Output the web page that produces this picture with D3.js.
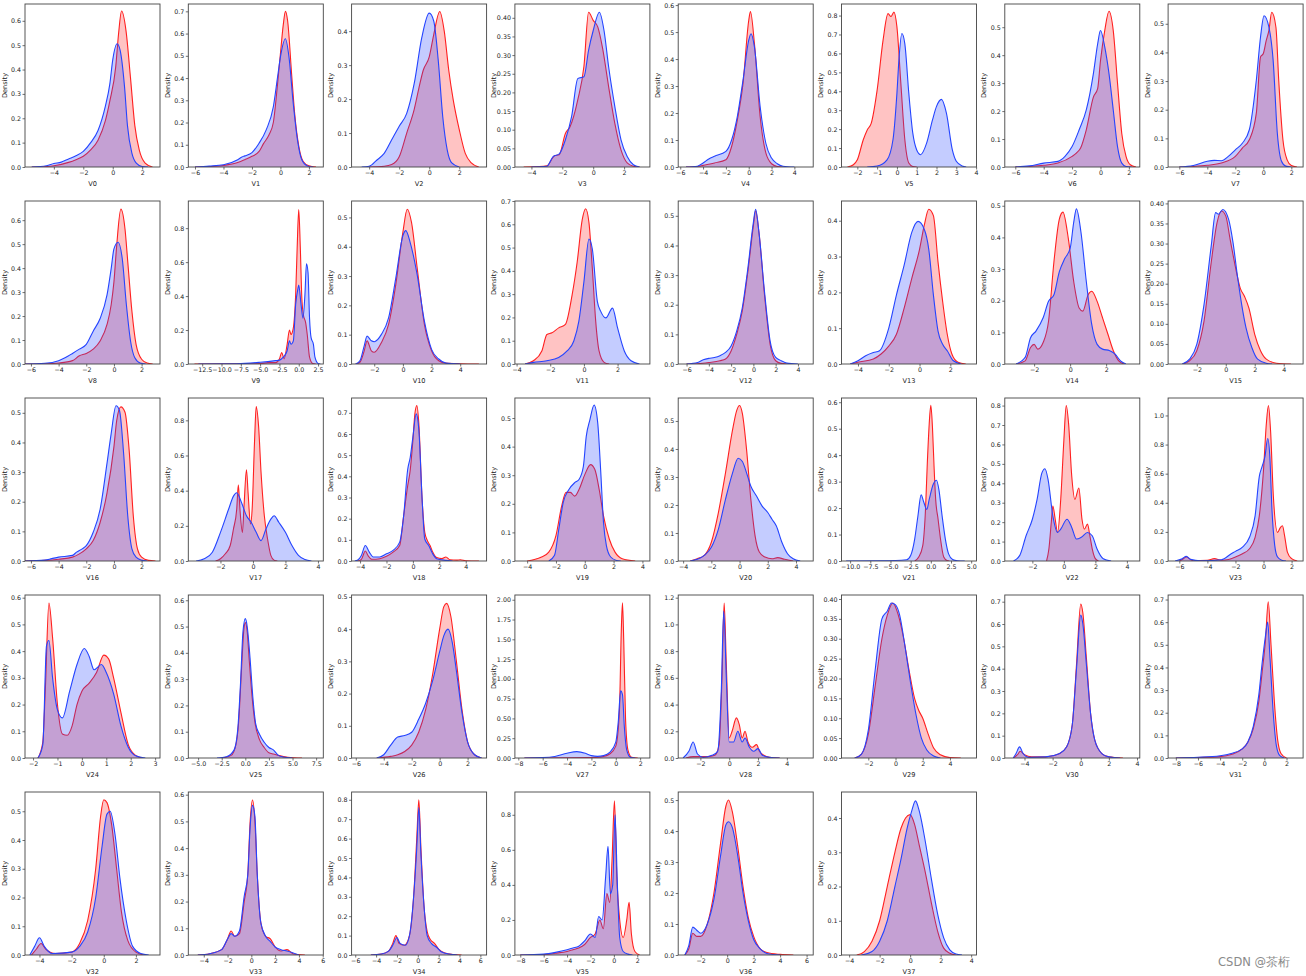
<!DOCTYPE html>
<html>
<head>
<meta charset="utf-8">
<script src="https://cdn.jsdelivr.net/npm/d3@7"></script>
<style>
  body { margin: 0; background: #fff; }
  svg { display: block; }
  text { font-family: "DejaVu Sans", sans-serif; }
</style>
</head>
<body>
<svg id="chart"></svg>
<script>
// one panel per feature, train (red) vs test (blue) density
const features = ['V0', 'V1', 'V2', 'V3', 'V4', 'V5', 'V6', 'V7', 'V8', 'V9', 'V10', 'V11', 'V12', 'V13', 'V14', 'V15',
  'V16', 'V17', 'V18', 'V19', 'V20', 'V21', 'V22', 'V23', 'V24', 'V25', 'V26', 'V27', 'V28', 'V29', 'V30', 'V31',
  'V32', 'V33', 'V34', 'V35', 'V36', 'V37']

const xLimits = [
  [-5.96, 3.21], [-6.47, 3.01], [-5.17, 3.82], [-5.07, 3.67], [-6.18, 5.65], [-2.8, 4.02], [-6.74, 2.77], [-6.8, 2.84],
  [-6.43, 3.33], [-14.3, 3.18], [-3.58, 5.84], [-4.1, 3.92], [-6.75, 5.37], [-5.07, 3.7], [-3.63, 3.87], [-3.98, 5.34],
  [-6.43, 3.33], [-3.98, 4.33], [-4.64, 5.58], [-4.85, 4.52], [-4.35, 5.22], [-11.07, 5.66], [-3.75, 4.82], [-6.8, 2.82],
  [-2.33, 3.2], [-6.04, 8.26], [-6.3, 3.36], [-8.28, 2.8], [-3.54, 5.83], [-3.97, 5.95], [-5.4, 4.2], [-8.7, 3.5],
  [-4.9, 3.5], [-5.3, 6.05], [-6.35, 6.6], [-8.46, 3.08], [-3.7, 6.5], [-4.5, 4.35]
]

const yTops = [0.669, 0.733, 0.48, 0.437, 0.604, 0.861, 0.583, 0.569,
  0.68, 0.96, 0.556, 0.70, 0.55, 0.455, 0.515, 0.406,
  0.55, 0.927, 0.77, 0.57, 0.582, 0.616, 0.839, 1.12,
  0.61, 0.62, 0.506, 2.06, 1.22, 0.41, 0.73, 0.72,
  0.567, 0.61, 0.84, 0.93, 0.526, 0.476]

const xTicks = [
  [-4, -2, 0, 2], [-6, -4, -2, 0, 2], [-4, -2, 0, 2], [-4, -2, 0, 2], [-6, -4, -2, 0, 2, 4], [-2, -1, 0, 1, 2, 3, 4], [-6, -4, -2, 0, 2], [-6, -4, -2, 0, 2],
  [-6, -4, -2, 0, 2], [-12.5, -10, -7.5, -5, -2.5, 0, 2.5], [-2, 0, 2, 4], [-4, -2, 0, 2], [-6, -4, -2, 0, 2, 4], [-4, -2, 0, 2], [-2, 0, 2], [-2, 0, 2, 4],
  [-6, -4, -2, 0, 2], [-2, 0, 2, 4], [-4, -2, 0, 2, 4], [-4, -2, 0, 2, 4], [-4, -2, 0, 2, 4], [-10, -7.5, -5, -2.5, 0, 2.5, 5], [-2, 0, 2, 4], [-6, -4, -2, 0, 2],
  [-2, -1, 0, 1, 2, 3], [-5, -2.5, 0, 2.5, 5, 7.5], [-6, -4, -2, 0, 2], [-8, -6, -4, -2, 0, 2], [-2, 0, 2, 4], [-2, 0, 2, 4], [-4, -2, 0, 2, 4], [-8, -6, -4, -2, 0, 2],
  [-4, -2, 0, 2], [-4, -2, 0, 2, 4, 6], [-6, -4, -2, 0, 2, 4, 6], [-8, -6, -4, -2, 0, 2], [-2, 0, 2, 4, 6], [-4, -2, 0, 2, 4]
]

const yStep = [0.1, 0.1, 0.1, 0.05, 0.1, 0.1, 0.1, 0.1,
  0.1, 0.2, 0.1, 0.1, 0.1, 0.1, 0.1, 0.05,
  0.1, 0.2, 0.1, 0.1, 0.1, 0.1, 0.1, 0.2,
  0.1, 0.1, 0.1, 0.25, 0.2, 0.05, 0.1, 0.1,
  0.1, 0.1, 0.1, 0.2, 0.1, 0.1]

// [x, density]
const trainKde = [
  [[-5.5, 0], [-4.5, 0.002], [-4, 0.005], [-3, 0.019], [-2.5, 0.03], [-2, 0.044], [-1.5, 0.07], [-1, 0.11], [-0.5, 0.19], [-0.2, 0.27], [0.2, 0.41], [0.4, 0.55], [0.6, 0.64], [0.9, 0.56], [1.2, 0.37], [1.5, 0.17], [1.8, 0.07], [2.2, 0.016], [2.7, 0]],
  [[-6, 0], [-5, 0.002], [-4, 0.007], [-3, 0.02], [-2.5, 0.033], [-2, 0.048], [-1.5, 0.07], [-1.2, 0.104], [-0.8, 0.145], [-0.5, 0.2], [-0.2, 0.375], [0, 0.51], [0.2, 0.64], [0.35, 0.7], [0.5, 0.66], [0.8, 0.405], [1, 0.24], [1.3, 0.09], [1.6, 0.025], [2, 0.005], [2.5, 0]],
  [[-4, 0], [-3, 0.002], [-2.5, 0.007], [-2, 0.03], [-1.5, 0.1], [-1, 0.17], [-0.7, 0.23], [-0.4, 0.285], [0, 0.324], [0.3, 0.39], [0.7, 0.458], [1, 0.4], [1.3, 0.285], [1.6, 0.197], [2, 0.11], [2.4, 0.04], [2.8, 0.012], [3.3, 0]],
  [[-4.5, 0], [-3.5, 0.001], [-3, 0.003], [-2.5, 0.03], [-2.2, 0.033], [-1.8, 0.09], [-1.5, 0.108], [-1, 0.18], [-0.6, 0.27], [-0.3, 0.415], [0, 0.393], [0.3, 0.375], [0.6, 0.32], [1, 0.215], [1.4, 0.117], [1.8, 0.046], [2.2, 0.011], [2.6, 0.002], [3, 0]],
  [[-5.5, 0], [-4.5, 0.002], [-4, 0.006], [-3, 0.015], [-2, 0.027], [-1.5, 0.076], [-1, 0.174], [-0.5, 0.31], [0, 0.543], [0.15, 0.576], [0.5, 0.457], [1, 0.187], [1.5, 0.052], [2, 0.012], [2.5, 0.002], [3, 0]],
  [[-2.5, 0], [-2.2, 0.012], [-2, 0.038], [-1.7, 0.144], [-1.5, 0.196], [-1.3, 0.23], [-1, 0.406], [-0.7, 0.67], [-0.45, 0.81], [-0.3, 0.795], [-0.15, 0.818], [0, 0.74], [0.2, 0.44], [0.4, 0.144], [0.6, 0.021], [0.8, 0.003], [1, 0]],
  [[-6, 0], [-5, 0.002], [-4, 0.006], [-3, 0.014], [-2, 0.038], [-1.7, 0.05], [-1.4, 0.068], [-1, 0.133], [-0.5, 0.25], [-0.2, 0.28], [0, 0.38], [0.3, 0.488], [0.6, 0.557], [0.9, 0.488], [1.2, 0.3], [1.5, 0.12], [1.8, 0.038], [2.1, 0.008], [2.5, 0]],
  [[-6, 0], [-5, 0.002], [-4, 0.006], [-3, 0.014], [-2, 0.037], [-1.5, 0.066], [-1, 0.095], [-0.5, 0.188], [-0.2, 0.384], [0, 0.396], [0.2, 0.44], [0.4, 0.477], [0.6, 0.54], [0.9, 0.488], [1.1, 0.303], [1.4, 0.095], [1.7, 0.025], [2, 0.005], [2.4, 0]],
  [[-6.5, 0], [-5, 0.001], [-4, 0.004], [-3, 0.014], [-2.5, 0.034], [-2, 0.044], [-1.5, 0.062], [-1, 0.096], [-0.5, 0.165], [-0.2, 0.247], [0, 0.343], [0.2, 0.495], [0.5, 0.646], [0.8, 0.563], [1, 0.426], [1.3, 0.22], [1.6, 0.082], [2, 0.02], [2.4, 0.004], [2.8, 0]],
  [[-13.5, 0], [-5, 0.002], [-4, 0.008], [-3, 0.008], [-2.5, 0.03], [-2.2, 0.068], [-1.9, 0.03], [-1.5, 0.116], [-1.2, 0.2], [-1, 0.174], [-0.7, 0.213], [-0.4, 0.407], [-0.2, 0.69], [0, 0.91], [0.2, 0.69], [0.4, 0.39], [0.6, 0.29], [0.9, 0.242], [1.1, 0.174], [1.4, 0.04], [1.8, 0.003], [2.2, 0]],
  [[-3.3, 0], [-3, 0.006], [-2.7, 0.045], [-2.5, 0.079], [-2.2, 0.045], [-2, 0.04], [-1.5, 0.073], [-1, 0.135], [-0.5, 0.27], [0, 0.45], [0.3, 0.528], [0.6, 0.483], [1, 0.326], [1.5, 0.135], [2, 0.045], [2.5, 0.011], [3, 0.003], [4, 0.001], [5.3, 0]],
  [[-3.5, 0], [-3, 0.014], [-2.5, 0.056], [-2.2, 0.127], [-1.9, 0.134], [-1.5, 0.155], [-1.1, 0.17], [-0.7, 0.297], [-0.4, 0.438], [-0.1, 0.62], [0.1, 0.667], [0.3, 0.607], [0.5, 0.41], [0.7, 0.184], [0.9, 0.056], [1.2, 0.007], [1.5, 0]],
  [[-6, 0], [-5, 0.001], [-4, 0.005], [-3, 0.011], [-2.5, 0.017], [-2, 0.044], [-1.5, 0.1], [-1, 0.178], [-0.5, 0.31], [0, 0.467], [0.2, 0.517], [0.5, 0.444], [1, 0.233], [1.5, 0.067], [2, 0.011], [2.5, 0.002], [3, 0]],
  [[-4.5, 0], [-4, 0.005], [-3, 0.014], [-2.5, 0.028], [-2, 0.05], [-1.5, 0.083], [-1, 0.156], [-0.5, 0.24], [0, 0.32], [0.3, 0.386], [0.6, 0.432], [0.9, 0.414], [1.2, 0.285], [1.5, 0.175], [1.8, 0.083], [2.1, 0.028], [2.5, 0.005], [3, 0]],
  [[-3, 0], [-2.5, 0.01], [-2.2, 0.052], [-2, 0.062], [-1.8, 0.047], [-1.5, 0.068], [-1.2, 0.135], [-0.9, 0.323], [-0.6, 0.458], [-0.4, 0.48], [-0.1, 0.396], [0.2, 0.26], [0.5, 0.177], [0.7, 0.167], [1, 0.219], [1.2, 0.23], [1.5, 0.198], [1.8, 0.146], [2.1, 0.094], [2.4, 0.042], [2.7, 0.01], [3, 0]],
  [[-3, 0], [-2.5, 0.008], [-2, 0.033], [-1.5, 0.107], [-1, 0.254], [-0.6, 0.352], [-0.3, 0.381], [0, 0.369], [0.3, 0.311], [0.6, 0.254], [1, 0.189], [1.3, 0.168], [1.6, 0.139], [2, 0.074], [2.4, 0.033], [2.8, 0.012], [3.5, 0.002], [4.5, 0]],
  [[-6.5, 0], [-5, 0.002], [-4, 0.006], [-3, 0.013], [-2.5, 0.024], [-2, 0.041], [-1.5, 0.069], [-1, 0.13], [-0.5, 0.23], [0, 0.386], [0.2, 0.474], [0.5, 0.52], [0.8, 0.502], [1.1, 0.374], [1.4, 0.152], [1.7, 0.041], [2, 0.013], [2.5, 0.002], [3, 0]],
  [[-2.3, 0], [-2, 0.013], [-1.7, 0.041], [-1.4, 0.088], [-1.2, 0.182], [-1, 0.294], [-0.9, 0.434], [-0.8, 0.294], [-0.65, 0.163], [-0.55, 0.313], [-0.4, 0.519], [-0.3, 0.388], [-0.15, 0.21], [-0.05, 0.294], [0.1, 0.687], [0.2, 0.878], [0.35, 0.762], [0.5, 0.5], [0.7, 0.257], [0.9, 0.125], [1.1, 0.032], [1.3, 0.005], [1.5, 0]],
  [[-4.2, 0], [-3.9, 0.008], [-3.6, 0.047], [-3.4, 0.026], [-3.1, 0.008], [-2.5, 0.011], [-2, 0.022], [-1.5, 0.042], [-1, 0.073], [-0.7, 0.213], [-0.4, 0.353], [-0.2, 0.43], [0, 0.57], [0.15, 0.695], [0.3, 0.734], [0.45, 0.65], [0.7, 0.29], [0.9, 0.135], [1.1, 0.096], [1.3, 0.073], [1.5, 0.042], [1.8, 0.016], [2.2, 0.011], [2.5, 0.019], [2.8, 0.006], [3.3, 0.004], [3.6, 0.006], [4, 0.001], [5, 0]],
  [[-4, 0], [-3.5, 0.005], [-3, 0.014], [-2.5, 0.031], [-2, 0.089], [-1.6, 0.193], [-1.3, 0.24], [-1, 0.24], [-0.7, 0.227], [-0.4, 0.25], [0, 0.302], [0.4, 0.337], [0.7, 0.32], [1, 0.25], [1.3, 0.158], [1.7, 0.077], [2.1, 0.031], [2.6, 0.008], [3.5, 0]],
  [[-3.5, 0], [-3, 0.008], [-2.5, 0.02], [-2, 0.067], [-1.5, 0.173], [-1, 0.314], [-0.5, 0.467], [-0.2, 0.538], [0, 0.555], [0.2, 0.526], [0.5, 0.396], [0.8, 0.22], [1.1, 0.09], [1.4, 0.032], [1.8, 0.014], [2.3, 0.008], [2.7, 0.012], [3.2, 0.006], [3.8, 0]],
  [[-2, 0], [-1.5, 0.015], [-1, 0.058], [-0.7, 0.17], [-0.4, 0.395], [-0.2, 0.519], [0, 0.588], [0.2, 0.507], [0.4, 0.357], [0.6, 0.233], [0.9, 0.158], [1.2, 0.083], [1.6, 0.015], [2, 0.002], [2.3, 0]],
  [[-1.1, 0], [-0.95, 0.063], [-0.8, 0.198], [-0.7, 0.283], [-0.55, 0.215], [-0.4, 0.147], [-0.2, 0.317], [0, 0.622], [0.15, 0.8], [0.3, 0.707], [0.5, 0.436], [0.7, 0.317], [0.95, 0.376], [1.15, 0.215], [1.3, 0.164], [1.5, 0.19], [1.65, 0.13], [1.8, 0.063], [2, 0.012], [2.2, 0]],
  [[-6, 0], [-5.8, 0.01], [-5.5, 0.027], [-5.2, 0.01], [-5, 0.002], [-4, 0.005], [-3.5, 0.016], [-3, 0.005], [-2.5, 0.01], [-2, 0.027], [-1.5, 0.05], [-1, 0.084], [-0.6, 0.163], [-0.3, 0.31], [0, 0.627], [0.2, 0.943], [0.35, 1.068], [0.5, 0.898], [0.7, 0.446], [1, 0.197], [1.2, 0.23], [1.35, 0.242], [1.5, 0.174], [1.7, 0.061], [2, 0.016], [2.4, 0]],
  [[-1.8, 0], [-1.6, 0.06], [-1.5, 0.25], [-1.35, 0.58], [-1.2, 0.45], [-1, 0.2], [-0.8, 0.09], [-0.6, 0.085], [-0.4, 0.12], [-0.2, 0.2], [0, 0.25], [0.3, 0.28], [0.6, 0.32], [0.9, 0.385], [1.1, 0.37], [1.3, 0.3], [1.6, 0.17], [1.9, 0.05], [2.2, 0.01], [2.5, 0]],
  [[-2.5, 0], [-1.5, 0.01], [-1, 0.05], [-0.7, 0.14], [-0.4, 0.34], [-0.15, 0.49], [0, 0.515], [0.2, 0.48], [0.4, 0.38], [0.7, 0.24], [1, 0.14], [1.5, 0.07], [2, 0.04], [2.5, 0.02], [3, 0.015], [3.5, 0.01], [4.5, 0.003], [6, 0]],
  [[-4.5, 0], [-3.5, 0.005], [-3, 0.01], [-2.5, 0.02], [-2, 0.04], [-1.5, 0.08], [-1, 0.15], [-0.5, 0.26], [0, 0.4], [0.3, 0.47], [0.5, 0.48], [0.8, 0.44], [1.2, 0.3], [1.6, 0.15], [2, 0.05], [2.5, 0.01], [3, 0]],
  [[-7.5, 0], [-4, 0.003], [-2, 0.005], [-1, 0.02], [-0.5, 0.05], [0, 0.15], [0.3, 0.6], [0.45, 1.6], [0.55, 1.96], [0.65, 1.5], [0.8, 0.5], [1, 0.1], [1.3, 0.01], [1.8, 0]],
  [[-3, 0], [-2.5, 0.01], [-1.5, 0.01], [-1, 0.02], [-0.7, 0.1], [-0.5, 0.6], [-0.35, 1.16], [-0.2, 0.7], [0, 0.15], [0.2, 0.2], [0.5, 0.3], [0.7, 0.25], [0.9, 0.15], [1.1, 0.2], [1.3, 0.12], [1.6, 0.08], [1.9, 0.1], [2.1, 0.05], [2.4, 0.02], [2.8, 0.005], [3.5, 0]],
  [[-3, 0], [-2.5, 0.01], [-2, 0.06], [-1.5, 0.18], [-1, 0.3], [-0.6, 0.36], [-0.2, 0.39], [0.2, 0.36], [0.6, 0.3], [1, 0.22], [1.4, 0.15], [1.7, 0.12], [2, 0.1], [2.4, 0.06], [2.8, 0.025], [3.3, 0.008], [4, 0.001], [4.8, 0]],
  [[-4.8, 0], [-4.5, 0.015], [-4.3, 0.03], [-4, 0.015], [-3.5, 0.005], [-2.5, 0.005], [-2, 0.01], [-1.5, 0.02], [-1, 0.05], [-0.6, 0.15], [-0.3, 0.42], [0, 0.69], [0.15, 0.65], [0.4, 0.45], [0.7, 0.2], [1, 0.08], [1.5, 0.02], [2, 0.005], [3, 0]],
  [[-8, 0], [-6, 0.002], [-4, 0.006], [-3, 0.015], [-2, 0.04], [-1.5, 0.07], [-1, 0.13], [-0.5, 0.25], [-0.2, 0.38], [0.1, 0.52], [0.35, 0.69], [0.6, 0.5], [0.9, 0.25], [1.2, 0.08], [1.5, 0.02], [2, 0]],
  [[-4.5, 0], [-4.2, 0.02], [-3.9, 0.04], [-3.6, 0.02], [-3, 0.005], [-2, 0.01], [-1.5, 0.04], [-1, 0.12], [-0.5, 0.3], [-0.2, 0.48], [0, 0.54], [0.2, 0.53], [0.5, 0.45], [0.8, 0.3], [1.1, 0.15], [1.5, 0.05], [2, 0.01], [2.5, 0]],
  [[-4.5, 0], [-3.5, 0.005], [-2.5, 0.02], [-2, 0.06], [-1.7, 0.09], [-1.4, 0.07], [-1, 0.08], [-0.6, 0.2], [-0.3, 0.3], [-0.1, 0.5], [0.1, 0.58], [0.3, 0.5], [0.5, 0.3], [0.8, 0.12], [1.2, 0.07], [1.6, 0.06], [2, 0.03], [2.5, 0.015], [3, 0.02], [3.5, 0.005], [4.5, 0]],
  [[-4.5, 0], [-3.5, 0.005], [-2.8, 0.02], [-2.4, 0.06], [-2.1, 0.1], [-1.8, 0.06], [-1.3, 0.05], [-0.8, 0.1], [-0.4, 0.3], [-0.1, 0.6], [0.1, 0.8], [0.3, 0.55], [0.6, 0.25], [0.9, 0.12], [1.2, 0.08], [1.6, 0.06], [2, 0.03], [2.6, 0.01], [3.5, 0.002], [4.2, 0]],
  [[-8, 0], [-6, 0.003], [-5, 0.01], [-4, 0.02], [-3.5, 0.03], [-3, 0.04], [-2.5, 0.06], [-2, 0.1], [-1.6, 0.12], [-1.2, 0.2], [-0.9, 0.15], [-0.6, 0.35], [-0.35, 0.3], [-0.15, 0.55], [0.05, 0.88], [0.25, 0.45], [0.5, 0.2], [0.8, 0.1], [1.1, 0.2], [1.3, 0.3], [1.5, 0.12], [1.8, 0.02], [2.2, 0]],
  [[-3.2, 0], [-2.9, 0.02], [-2.6, 0.07], [-2.3, 0.06], [-2, 0.06], [-1.5, 0.1], [-1, 0.2], [-0.5, 0.36], [-0.1, 0.48], [0.1, 0.5], [0.4, 0.46], [0.8, 0.35], [1.2, 0.22], [1.6, 0.12], [2, 0.06], [2.5, 0.02], [3, 0.008], [4, 0.002], [5, 0]],
  [[-3.5, 0], [-3, 0.01], [-2.5, 0.04], [-2, 0.1], [-1.5, 0.2], [-1, 0.3], [-0.6, 0.37], [-0.3, 0.4], [0, 0.41], [0.3, 0.38], [0.6, 0.32], [1, 0.24], [1.4, 0.15], [1.8, 0.07], [2.2, 0.02], [2.6, 0.005], [3, 0]]
]

const testKde = [
  [[-5.5, 0], [-4.5, 0.005], [-4, 0.014], [-3.5, 0.02], [-3, 0.033], [-2.5, 0.046], [-2, 0.064], [-1.5, 0.1], [-1, 0.15], [-0.5, 0.25], [-0.2, 0.34], [0, 0.44], [0.3, 0.506], [0.5, 0.48], [0.8, 0.33], [1, 0.17], [1.3, 0.057], [1.6, 0.016], [2, 0.002], [2.4, 0]],
  [[-6, 0], [-5, 0.004], [-4, 0.01], [-3, 0.033], [-2.7, 0.045], [-2.5, 0.05], [-2, 0.065], [-1.5, 0.107], [-1, 0.167], [-0.5, 0.27], [-0.2, 0.405], [0, 0.495], [0.35, 0.577], [0.6, 0.495], [0.9, 0.286], [1.2, 0.12], [1.5, 0.033], [1.9, 0.005], [2.3, 0]],
  [[-4.5, 0], [-4, 0.002], [-3.5, 0.02], [-3, 0.04], [-2.5, 0.08], [-2, 0.12], [-1.5, 0.158], [-1, 0.246], [-0.5, 0.38], [0, 0.453], [0.3, 0.43], [0.6, 0.314], [0.9, 0.148], [1.2, 0.05], [1.5, 0.012], [2, 0]],
  [[-4, 0], [-3, 0.002], [-2.6, 0.028], [-2.2, 0.035], [-1.8, 0.073], [-1.4, 0.135], [-1, 0.237], [-0.6, 0.242], [-0.3, 0.313], [0, 0.366], [0.4, 0.415], [0.7, 0.366], [1, 0.268], [1.4, 0.162], [1.8, 0.073], [2.2, 0.028], [2.6, 0.006], [3, 0]],
  [[-5.5, 0], [-4.5, 0.003], [-4, 0.015], [-3.5, 0.03], [-3, 0.04], [-2, 0.058], [-1.5, 0.1], [-1, 0.187], [-0.5, 0.322], [0, 0.47], [0.2, 0.494], [0.5, 0.445], [1, 0.224], [1.5, 0.088], [2, 0.033], [2.5, 0.012], [3, 0.003], [4, 0]],
  [[-1.5, 0], [-1, 0.005], [-0.5, 0.038], [-0.2, 0.144], [0, 0.39], [0.1, 0.565], [0.25, 0.705], [0.4, 0.65], [0.6, 0.39], [0.8, 0.18], [1, 0.09], [1.2, 0.065], [1.5, 0.126], [1.8, 0.25], [2, 0.32], [2.25, 0.357], [2.5, 0.284], [2.8, 0.09], [3, 0.03], [3.3, 0.005], [3.5, 0]],
  [[-6, 0], [-5, 0.004], [-4, 0.014], [-3, 0.02], [-2.5, 0.038], [-2, 0.073], [-1.5, 0.133], [-1, 0.204], [-0.5, 0.334], [-0.2, 0.44], [0, 0.488], [0.3, 0.43], [0.6, 0.334], [0.9, 0.204], [1.2, 0.073], [1.5, 0.014], [1.8, 0.002], [2.2, 0]],
  [[-6, 0], [-5, 0.005], [-4, 0.02], [-3.5, 0.023], [-3, 0.022], [-2.5, 0.037], [-2, 0.06], [-1.5, 0.083], [-1, 0.13], [-0.5, 0.303], [-0.2, 0.454], [0.05, 0.528], [0.4, 0.488], [0.7, 0.373], [1, 0.118], [1.3, 0.02], [1.6, 0.003], [2, 0]],
  [[-6.5, 0], [-5, 0.003], [-4, 0.014], [-3.5, 0.027], [-3, 0.044], [-2.5, 0.062], [-2, 0.082], [-1.5, 0.137], [-1, 0.19], [-0.5, 0.288], [-0.2, 0.398], [0, 0.48], [0.3, 0.508], [0.6, 0.44], [0.9, 0.247], [1.2, 0.096], [1.5, 0.027], [1.9, 0.004], [2.3, 0]],
  [[-13, 0], [-8, 0.001], [-5, 0.01], [-3, 0.02], [-2.5, 0.023], [-2, 0.04], [-1.5, 0.078], [-1.2, 0.136], [-1, 0.116], [-0.7, 0.136], [-0.4, 0.35], [-0.1, 0.446], [0, 0.465], [0.3, 0.35], [0.55, 0.27], [0.8, 0.407], [1, 0.59], [1.2, 0.54], [1.4, 0.27], [1.6, 0.155], [1.9, 0.116], [2.1, 0.04], [2.5, 0.003], [2.8, 0]],
  [[-3.3, 0], [-3, 0.011], [-2.7, 0.062], [-2.5, 0.095], [-2.2, 0.079], [-2, 0.076], [-1.5, 0.101], [-1, 0.157], [-0.5, 0.292], [0, 0.438], [0.2, 0.455], [0.5, 0.416], [1, 0.303], [1.5, 0.146], [2, 0.05], [2.5, 0.017], [3, 0.003], [4, 0]],
  [[-3.5, 0], [-3, 0.007], [-2.2, 0.014], [-1.5, 0.028], [-1, 0.056], [-0.6, 0.099], [-0.3, 0.184], [0, 0.353], [0.3, 0.537], [0.5, 0.494], [0.8, 0.268], [1, 0.226], [1.3, 0.198], [1.7, 0.24], [2, 0.155], [2.4, 0.056], [2.8, 0.014], [3.3, 0]],
  [[-6, 0], [-5, 0.005], [-4.5, 0.014], [-4, 0.019], [-3.5, 0.022], [-3, 0.028], [-2.5, 0.039], [-2, 0.061], [-1.5, 0.111], [-1, 0.189], [-0.5, 0.322], [0, 0.478], [0.2, 0.522], [0.5, 0.444], [1, 0.244], [1.5, 0.078], [2, 0.022], [2.5, 0.011], [3, 0.003], [4, 0]],
  [[-4.5, 0], [-4, 0.009], [-3.5, 0.023], [-3, 0.032], [-2.6, 0.037], [-2, 0.1], [-1.5, 0.193], [-1, 0.276], [-0.5, 0.368], [-0.1, 0.398], [0.3, 0.377], [0.6, 0.32], [0.9, 0.193], [1.2, 0.092], [1.5, 0.055], [1.8, 0.037], [2.2, 0.009], [2.7, 0]],
  [[-3, 0], [-2.5, 0.021], [-2.2, 0.083], [-1.9, 0.104], [-1.5, 0.146], [-1.2, 0.198], [-0.9, 0.219], [-0.6, 0.292], [-0.3, 0.333], [0, 0.365], [0.2, 0.448], [0.35, 0.49], [0.6, 0.417], [0.9, 0.26], [1.2, 0.125], [1.5, 0.062], [1.8, 0.047], [2.2, 0.042], [2.5, 0.031], [2.8, 0.01], [3.1, 0]],
  [[-3, 0], [-2.5, 0.012], [-2, 0.049], [-1.5, 0.148], [-1, 0.295], [-0.7, 0.377], [-0.5, 0.373], [-0.2, 0.385], [0.2, 0.36], [0.5, 0.303], [0.8, 0.221], [1.1, 0.148], [1.4, 0.09], [1.8, 0.041], [2.2, 0.012], [2.8, 0.002], [3.2, 0]],
  [[-6.5, 0], [-5, 0.003], [-4.5, 0.008], [-4, 0.013], [-3, 0.019], [-2.7, 0.03], [-2.3, 0.041], [-2, 0.052], [-1.5, 0.097], [-1, 0.174], [-0.5, 0.33], [-0.2, 0.43], [0.15, 0.524], [0.4, 0.508], [0.7, 0.363], [1, 0.152], [1.3, 0.041], [1.6, 0.013], [2, 0.003], [2.4, 0]],
  [[-3.5, 0], [-3, 0.013], [-2.5, 0.05], [-2, 0.163], [-1.5, 0.294], [-1.2, 0.369], [-1, 0.388], [-0.7, 0.331], [-0.4, 0.257], [-0.1, 0.219], [0.2, 0.163], [0.5, 0.116], [0.8, 0.182], [1.1, 0.238], [1.3, 0.257], [1.6, 0.219], [2, 0.163], [2.4, 0.088], [2.8, 0.032], [3.2, 0.009], [3.6, 0]],
  [[-4.4, 0], [-4.2, 0.003], [-3.9, 0.026], [-3.6, 0.073], [-3.3, 0.042], [-3, 0.019], [-2.5, 0.019], [-2, 0.034], [-1.5, 0.05], [-1, 0.089], [-0.7, 0.213], [-0.4, 0.43], [-0.2, 0.49], [0, 0.586], [0.25, 0.695], [0.45, 0.62], [0.7, 0.29], [0.9, 0.104], [1.2, 0.073], [1.5, 0.034], [1.8, 0.011], [2.5, 0.003], [3, 0]],
  [[-2.5, 0], [-2.1, 0.02], [-1.8, 0.112], [-1.5, 0.204], [-1.1, 0.25], [-0.7, 0.274], [-0.4, 0.285], [-0.1, 0.33], [0.1, 0.435], [0.35, 0.493], [0.65, 0.545], [0.9, 0.482], [1.1, 0.32], [1.3, 0.135], [1.5, 0.054], [1.8, 0.014], [2.2, 0.002], [2.5, 0]],
  [[-3.5, 0], [-3, 0.006], [-2.5, 0.02], [-2, 0.049], [-1.5, 0.114], [-1, 0.22], [-0.5, 0.314], [-0.1, 0.367], [0.2, 0.355], [0.5, 0.314], [0.8, 0.267], [1.2, 0.232], [1.6, 0.196], [2, 0.173], [2.3, 0.149], [2.6, 0.126], [3, 0.067], [3.4, 0.026], [3.8, 0.008], [4.3, 0]],
  [[-10.5, 0], [-6, 0.001], [-3, 0.005], [-2.5, 0.021], [-2, 0.083], [-1.6, 0.17], [-1.2, 0.25], [-0.9, 0.225], [-0.5, 0.195], [-0.2, 0.233], [0.3, 0.29], [0.7, 0.305], [1, 0.27], [1.4, 0.17], [1.8, 0.083], [2.2, 0.027], [2.7, 0.006], [3.3, 0.001], [4.2, 0]],
  [[-3.2, 0], [-2.8, 0.029], [-2.4, 0.13], [-2, 0.215], [-1.7, 0.317], [-1.4, 0.452], [-1.2, 0.475], [-1, 0.418], [-0.7, 0.232], [-0.4, 0.147], [-0.2, 0.164], [0.2, 0.215], [0.5, 0.173], [0.8, 0.113], [1.1, 0.122], [1.5, 0.147], [1.8, 0.13], [2.1, 0.063], [2.5, 0.012], [3, 0]],
  [[-6.3, 0], [-5.8, 0.016], [-5.5, 0.032], [-5.2, 0.011], [-4.5, 0.001], [-3, 0.009], [-2.3, 0.05], [-2, 0.066], [-1.5, 0.095], [-1, 0.163], [-0.6, 0.31], [-0.3, 0.581], [-0.1, 0.65], [0.1, 0.717], [0.3, 0.842], [0.45, 0.717], [0.6, 0.355], [0.8, 0.106], [1, 0.027], [1.3, 0.005], [1.6, 0]],
  [[-1.8, 0], [-1.6, 0.05], [-1.45, 0.42], [-1.35, 0.44], [-1.2, 0.3], [-1, 0.18], [-0.8, 0.15], [-0.5, 0.25], [-0.2, 0.35], [0.1, 0.41], [0.3, 0.38], [0.5, 0.33], [0.8, 0.35], [1, 0.32], [1.3, 0.24], [1.6, 0.12], [1.9, 0.04], [2.2, 0.008], [2.6, 0]],
  [[-3, 0], [-2, 0.005], [-1.2, 0.03], [-0.8, 0.11], [-0.5, 0.29], [-0.25, 0.48], [0, 0.53], [0.2, 0.5], [0.5, 0.38], [0.8, 0.23], [1.1, 0.13], [1.5, 0.09], [2, 0.06], [2.5, 0.04], [3, 0.03], [3.5, 0.01], [4, 0.004], [5, 0]],
  [[-4.5, 0], [-4, 0.01], [-3.5, 0.04], [-3, 0.065], [-2.5, 0.07], [-2, 0.08], [-1.5, 0.12], [-1, 0.17], [-0.5, 0.24], [0, 0.33], [0.3, 0.38], [0.6, 0.4], [0.9, 0.36], [1.2, 0.27], [1.6, 0.14], [2, 0.05], [2.5, 0.01], [3, 0]],
  [[-7.5, 0], [-6, 0.005], [-5, 0.02], [-4, 0.06], [-3.2, 0.08], [-2.5, 0.06], [-2, 0.03], [-1.5, 0.02], [-1, 0.03], [-0.5, 0.07], [0, 0.2], [0.2, 0.45], [0.4, 0.85], [0.55, 0.8], [0.7, 0.4], [0.9, 0.1], [1.2, 0.01], [1.6, 0]],
  [[-3.2, 0], [-2.8, 0.05], [-2.5, 0.12], [-2.2, 0.03], [-1.8, 0.005], [-1.2, 0.02], [-0.8, 0.05], [-0.55, 0.5], [-0.38, 1.1], [-0.2, 0.6], [0, 0.12], [0.3, 0.12], [0.6, 0.2], [0.9, 0.12], [1.1, 0.15], [1.4, 0.08], [1.7, 0.05], [2, 0.07], [2.3, 0.02], [2.8, 0.005], [3.5, 0]],
  [[-3, 0], [-2.5, 0.01], [-2, 0.07], [-1.5, 0.22], [-1, 0.35], [-0.6, 0.37], [-0.3, 0.39], [0, 0.385], [0.3, 0.36], [0.7, 0.28], [1.1, 0.19], [1.5, 0.11], [1.9, 0.05], [2.3, 0.02], [2.8, 0.005], [3.3, 0]],
  [[-4.8, 0], [-4.6, 0.02], [-4.35, 0.05], [-4.1, 0.02], [-3.7, 0.003], [-2.5, 0.005], [-1.5, 0.02], [-1, 0.05], [-0.6, 0.15], [-0.3, 0.4], [0, 0.64], [0.15, 0.6], [0.4, 0.42], [0.7, 0.2], [1, 0.08], [1.5, 0.02], [2, 0.005], [2.8, 0]],
  [[-8, 0], [-6, 0.003], [-4, 0.01], [-3, 0.02], [-2, 0.04], [-1.5, 0.07], [-1, 0.14], [-0.5, 0.28], [-0.2, 0.42], [0.1, 0.54], [0.3, 0.6], [0.5, 0.45], [0.8, 0.2], [1.1, 0.05], [1.4, 0.01], [1.8, 0]],
  [[-4.6, 0], [-4.3, 0.03], [-4, 0.06], [-3.7, 0.03], [-3.2, 0.005], [-2, 0.01], [-1.5, 0.03], [-1, 0.08], [-0.5, 0.2], [-0.1, 0.38], [0.2, 0.49], [0.4, 0.5], [0.7, 0.42], [1, 0.27], [1.4, 0.12], [1.8, 0.03], [2.3, 0.005], [2.8, 0]],
  [[-4.5, 0], [-3.5, 0.005], [-2.5, 0.02], [-2, 0.06], [-1.7, 0.08], [-1.4, 0.07], [-1, 0.09], [-0.6, 0.22], [-0.3, 0.3], [-0.1, 0.48], [0.1, 0.56], [0.3, 0.52], [0.5, 0.3], [0.8, 0.12], [1.2, 0.07], [1.6, 0.05], [2, 0.03], [2.5, 0.02], [3, 0.015], [4, 0]],
  [[-4.5, 0], [-3.5, 0.005], [-2.8, 0.02], [-2.4, 0.05], [-2, 0.09], [-1.7, 0.06], [-1.2, 0.05], [-0.8, 0.1], [-0.4, 0.3], [-0.1, 0.55], [0.1, 0.76], [0.3, 0.52], [0.6, 0.25], [0.9, 0.1], [1.3, 0.06], [1.8, 0.04], [2.3, 0.015], [3, 0.005], [3.8, 0]],
  [[-8, 0], [-6, 0.005], [-5, 0.015], [-4, 0.03], [-3.5, 0.04], [-3, 0.05], [-2.5, 0.08], [-2, 0.12], [-1.6, 0.1], [-1.3, 0.22], [-1, 0.2], [-0.7, 0.45], [-0.5, 0.62], [-0.3, 0.35], [-0.1, 0.4], [0.1, 0.8], [0.3, 0.4], [0.5, 0.1], [0.8, 0.02], [1.2, 0.005], [1.6, 0]],
  [[-3.2, 0], [-2.9, 0.03], [-2.6, 0.09], [-2.3, 0.08], [-2, 0.07], [-1.5, 0.1], [-1, 0.18], [-0.5, 0.32], [-0.1, 0.42], [0.1, 0.43], [0.4, 0.41], [0.8, 0.32], [1.2, 0.2], [1.6, 0.11], [2, 0.05], [2.5, 0.02], [3, 0.005], [4, 0]],
  [[-3.2, 0], [-2.5, 0.01], [-2, 0.04], [-1.5, 0.1], [-1, 0.2], [-0.6, 0.28], [-0.2, 0.37], [0.1, 0.42], [0.35, 0.45], [0.6, 0.42], [1, 0.33], [1.4, 0.22], [1.8, 0.12], [2.2, 0.05], [2.6, 0.015], [3, 0.003], [3.4, 0]]
]

const width = 1306
const height = 976
const nCols = 8
const panelW = 135 // pixels
const panelH = 163 // pixels
const colStep = 163.3
const rowStep = 197
const left0 = 25
const top0 = 4
const trainColor = '#ff2020'
const testColor = '#2444ff'
const fontSize = 6.3

const svg = d3.select('#chart').attr('width', width).attr('height', height)

const minus = s => s.replace('-', '\u2212')

features.forEach((name, i) => {
  const col = i % nCols
  const row = Math.floor(i / nCols)
  const g = svg.append('g')
    .attr('transform', `translate(${left0 + col * colStep},${top0 + row * rowStep})`)

  const x = d3.scaleLinear().domain(xLimits[i]).range([0, panelW])
  const y = d3.scaleLinear().domain([0, yTops[i]]).range([panelH, 0])

  g.append('clipPath').attr('id', `clip${i}`)
    .append('rect').attr('width', panelW).attr('height', panelH)

  const area = d3.area().x(d => x(d[0])).y0(y(0)).y1(d => y(d[1])).curve(d3.curveMonotoneX)
  const line = d3.line().x(d => x(d[0])).y(d => y(d[1])).curve(d3.curveMonotoneX)

  const plot = g.append('g').attr('clip-path', `url(#clip${i})`)
  ;[[trainKde[i], trainColor], [testKde[i], testColor]].forEach(([pts, color]) => {
    plot.append('path').attr('d', area(pts)).attr('fill', color).attr('fill-opacity', 0.27)
    plot.append('path').attr('d', line(pts)).attr('fill', 'none')
      .attr('stroke', color).attr('stroke-width', 1.1).attr('stroke-linejoin', 'round')
  })

  // axes
  const step = yStep[i]
  const yDec = (step === 0.05 || step === 0.25) ? 2 : 1
  const yVals = d3.range(0, yTops[i] + 1e-9, step)
  const xDec = xTicks[i].some(v => !Number.isInteger(v)) ? 1 : 0

  const xAxis = g.append('g').attr('transform', `translate(0,${panelH})`)
    .call(d3.axisBottom(x).tickValues(xTicks[i]).tickSize(2.5).tickPadding(1.5)
      .tickFormat(d => minus(d.toFixed(xDec))))
  const yAxis = g.append('g')
    .call(d3.axisLeft(y).tickValues(yVals).tickSize(2.5).tickPadding(1.5)
      .tickFormat(d => d.toFixed(yDec)))
  ;[xAxis, yAxis].forEach(a => {
    a.select('.domain').remove()
    a.selectAll('line').attr('stroke', '#333').attr('stroke-width', 0.7)
    a.selectAll('text').attr('font-size', fontSize).attr('fill', '#222')
      .attr('font-family', '"DejaVu Sans", sans-serif')
  })

  g.append('rect').attr('width', panelW).attr('height', panelH)
    .attr('fill', 'none').attr('stroke', '#444').attr('stroke-width', 0.9)

  g.append('text').attr('x', panelW / 2).attr('y', panelH + 18.5)
    .attr('text-anchor', 'middle').attr('font-size', fontSize + 0.3).attr('fill', '#222').text(name)
  g.append('text')
    .attr('transform', `translate(-18.5,${panelH / 2}) rotate(-90)`)
    .attr('text-anchor', 'middle').attr('font-size', fontSize + 0.3).attr('fill', '#222').text('Density')
})

svg.append('text').attr('x', 1290).attr('y', 966).attr('text-anchor', 'end')
  .attr('font-size', 11.5).attr('fill', '#8a8a8a')
  .attr('font-family', '"Noto Sans CJK SC", "Noto Sans", sans-serif')
  .text('CSDN @茶桁')
</script>
</body>
</html>
